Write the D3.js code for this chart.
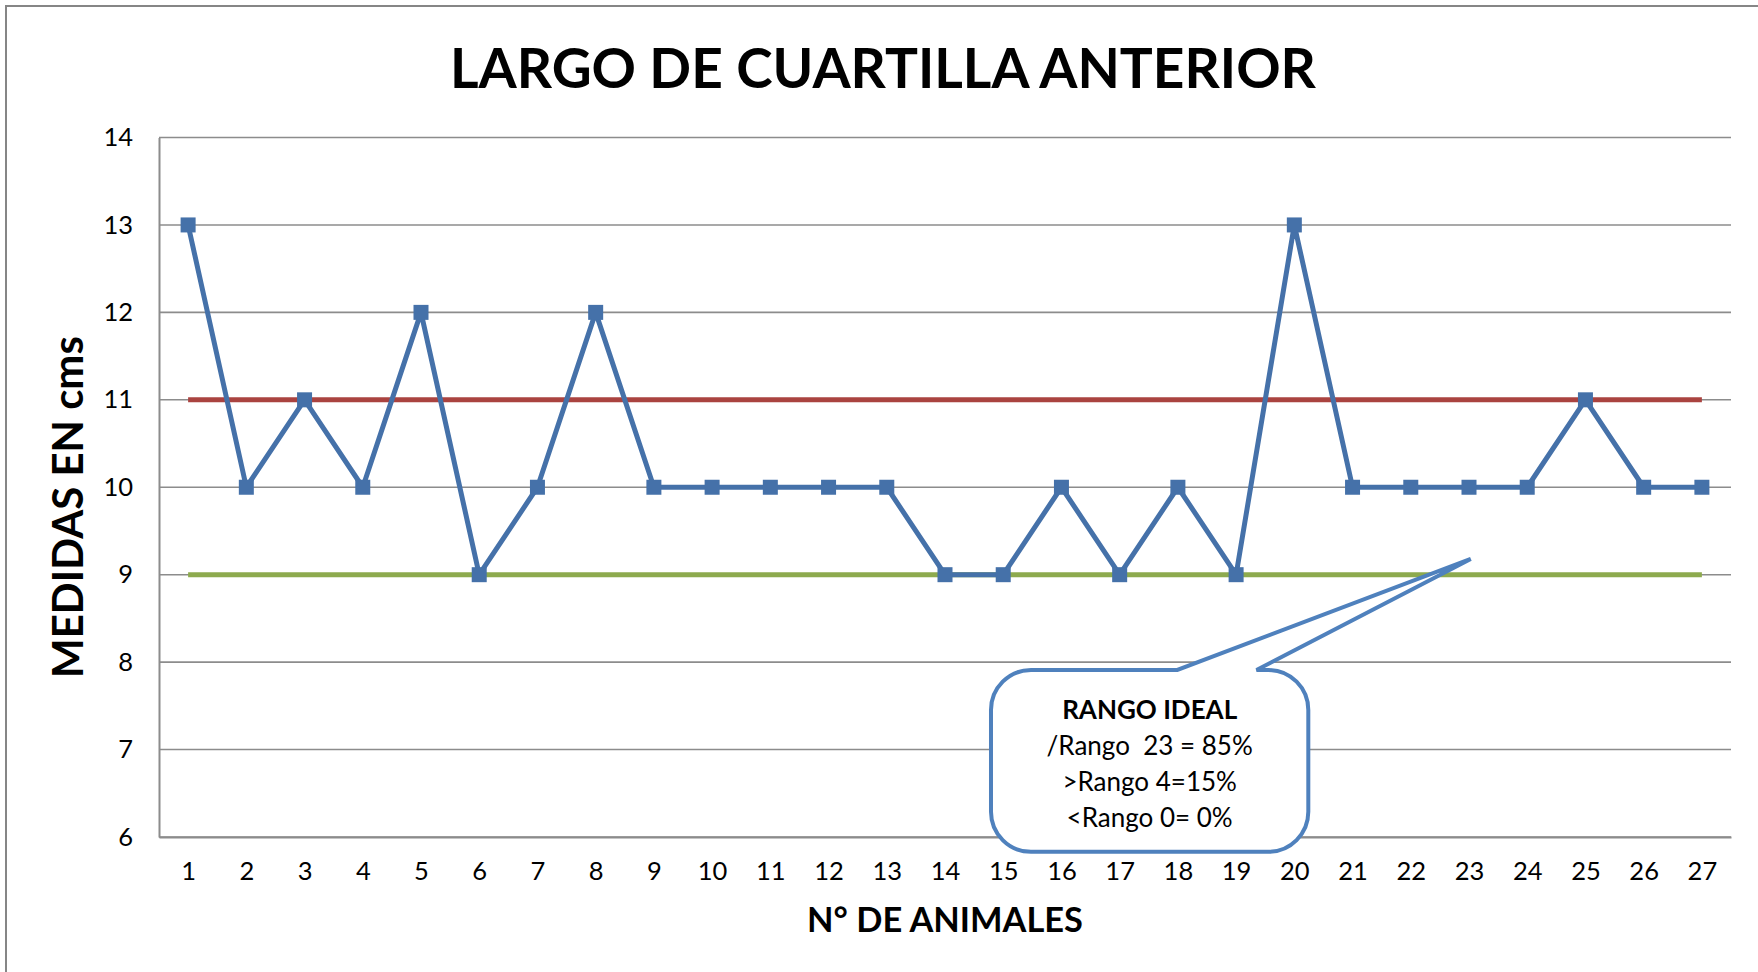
<!DOCTYPE html>
<html>
<head>
<meta charset="utf-8">
<script src="https://cdn.jsdelivr.net/npm/d3@7"></script>
<style>
  html, body { margin: 0; padding: 0; background: #fff; }
  svg { display: block; }
</style>
</head>
<body>
<svg id="chart" width="1758" height="972"></svg>
<script>
// ---- data ----
const animals = [1,2,3,4,5,6,7,8,9,10,11,12,13,14,15,16,17,18,19,20,21,22,23,24,25,26,27];
const medidas = [13,10,11,10,12,9,10,12,10,10,10,10,10,9,9,10,9,10,9,13,10,10,10,10,11,10,10];
const limiteSuperior = 11;
const limiteInferior = 9;
const yTicks = [6,7,8,9,10,11,12,13,14];
const titleText = "LARGO DE CUARTILLA ANTERIOR";
const yTitleText = "MEDIDAS EN cms";
const xTitleText = "N° DE ANIMALES";
const calloutLines = ["RANGO IDEAL", "/Rango  23 = 85%", ">Rango 4=15%", "<Rango 0= 0%"];
// callout anchor (tip) and box, in data units
const calloutTip = {x: 23.03, y: 9.18};
const calloutBox = {x0: 14.79, x1: 20.24, y0: 7.91, y1: 5.83};
const calloutBase = {xa: 17.99, xb: 19.35};

// ---- layout ----
const svg = d3.select("#chart");
const L = 159, R = 1731, T = 137.5, B = 837;
const FONT = "Lato, 'Open Sans', 'Liberation Sans', sans-serif";

const x = d3.scalePoint().domain(animals).range([L, R]).padding(0.5);
const xl = d3.scaleLinear().domain([1, 27]).range([x(1), x(27)]);
const y = d3.scaleLinear().domain([6, 14]).range([B, T]);

// outer border
svg.append("rect").attr("x", 6).attr("y", 6).attr("width", 1770).attr("height", 1000)
  .attr("fill", "#fff").attr("stroke", "#868686").attr("stroke-width", 2);

// gridlines
svg.append("g").selectAll("line").data(yTicks).join("line")
  .attr("x1", L).attr("x2", R).attr("y1", d => y(d)).attr("y2", d => y(d))
  .attr("stroke", "#8c8c8c").attr("stroke-width", 1.6);

// y axis
const yAxis = svg.append("g").attr("transform", `translate(${L},0)`)
  .call(d3.axisLeft(y).tickValues(yTicks).tickSize(0).tickPadding(26));
yAxis.select(".domain").attr("stroke", "#8c8c8c").attr("stroke-width", 2);
yAxis.selectAll("text").attr("font-family", FONT).attr("font-size", 25.5).attr("fill", "#000");

// x axis
const xAxis = svg.append("g").attr("transform", `translate(0,${B})`)
  .call(d3.axisBottom(x).tickSize(0).tickPadding(25));
xAxis.select(".domain").attr("stroke", "#8c8c8c").attr("stroke-width", 2);
xAxis.selectAll("text").attr("font-family", FONT).attr("font-size", 25.5).attr("fill", "#000");

// reference lines
svg.append("line").attr("x1", x(1)).attr("x2", x(27))
  .attr("y1", y(limiteSuperior)).attr("y2", y(limiteSuperior))
  .attr("stroke", "#AA4340").attr("stroke-width", 5);
svg.append("line").attr("x1", x(1)).attr("x2", x(27))
  .attr("y1", y(limiteInferior)).attr("y2", y(limiteInferior))
  .attr("stroke", "#8DAA4E").attr("stroke-width", 5);

// series
const pts = animals.map((a, i) => [x(a), y(medidas[i])]);
svg.append("path").datum(pts)
  .attr("d", d3.line())
  .attr("fill", "none").attr("stroke", "#4571A9").attr("stroke-width", 5)
  .attr("stroke-linejoin", "round");
svg.append("g").selectAll("rect").data(pts).join("rect")
  .attr("x", d => d[0] - 7.5).attr("y", d => d[1] - 7.5)
  .attr("width", 15).attr("height", 15).attr("fill", "#4571A9");

// callout
const bx0 = xl(calloutBox.x0), bx1 = xl(calloutBox.x1);
const by0 = y(calloutBox.y0), by1 = y(calloutBox.y1);
const tx = xl(calloutTip.x), ty = y(calloutTip.y);
const pa = xl(calloutBase.xa), pb = xl(calloutBase.xb);
const r = 40;
const p = d3.path();
p.moveTo(bx0 + r, by0);
p.lineTo(pa, by0);
p.lineTo(tx, ty);
p.lineTo(pb, by0);
p.lineTo(bx1 - r, by0);
p.arcTo(bx1, by0, bx1, by0 + r, r);
p.lineTo(bx1, by1 - r);
p.arcTo(bx1, by1, bx1 - r, by1, r);
p.lineTo(bx0 + r, by1);
p.arcTo(bx0, by1, bx0, by1 - r, r);
p.lineTo(bx0, by0 + r);
p.arcTo(bx0, by0, bx0 + r, by0, r);
p.closePath();
svg.append("path").attr("d", p.toString())
  .attr("fill", "#fff").attr("stroke", "#4F81BD").attr("stroke-width", 4)
  .attr("stroke-linejoin", "miter");
const cx = (bx0 + bx1) / 2;
svg.append("g").selectAll("text").data(calloutLines).join("text")
  .attr("x", cx).attr("y", (d, i) => by0 + 49 + i * 36)
  .attr("text-anchor", "middle").attr("font-family", FONT)
  .attr("font-size", 26).attr("font-weight", (d, i) => i === 0 ? "bold" : "normal")
  .attr("fill", "#000").attr("xml:space", "preserve").style("white-space", "pre")
  .text(d => d);

// titles
function fit(sel, target) {
  const w = sel.node().getComputedTextLength();
  const fs = parseFloat(sel.attr("font-size"));
  sel.attr("font-size", fs * target / w);
}
const title = svg.append("text").attr("x", 883).attr("y", 88)
  .attr("text-anchor", "middle").attr("font-family", FONT).attr("font-weight", "bold")
  .attr("font-size", 56).attr("fill", "#000").text(titleText);
fit(title, 866);

const yTitle = svg.append("text").attr("transform", "translate(83,507) rotate(-90)")
  .attr("text-anchor", "middle").attr("font-family", FONT).attr("font-weight", "bold")
  .attr("font-size", 38).attr("fill", "#000").text(yTitleText);
fit(yTitle, 342);

const xTitle = svg.append("text").attr("x", 945).attr("y", 932)
  .attr("text-anchor", "middle").attr("font-family", FONT).attr("font-weight", "bold")
  .attr("font-size", 32).attr("fill", "#000").text(xTitleText);
fit(xTitle, 276);
</script>
</body>
</html>
